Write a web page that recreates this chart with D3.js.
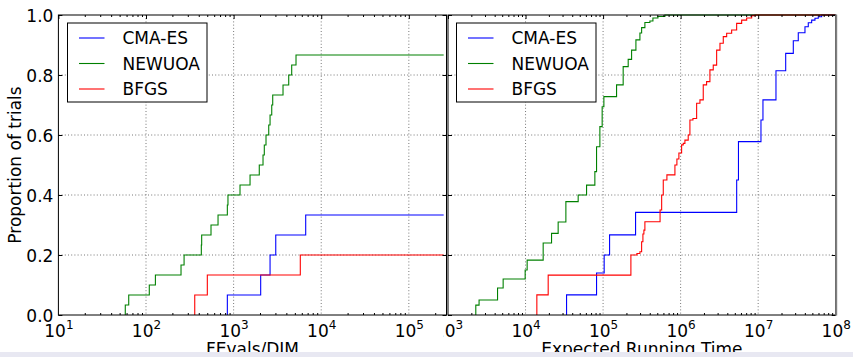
<!DOCTYPE html>
<html>
<head>
<meta charset="utf-8">
<script src="https://cdn.jsdelivr.net/npm/d3@7"></script>
<style>
  html, body { margin: 0; padding: 0; background: #fff; }
  svg { display: block; font-family: "DejaVu Sans", sans-serif; }
</style>
</head>
<body>
<svg id="chart" width="853" height="357"></svg>
<script>
// ---- data ---------------------------------------------------------------
const algorithms = ["CMA-ES", "NEWUOA", "BFGS"];
const algColors = ["#0000ff", "#008000", "#ff0000"];
const propTicks = [0, 0.2, 0.4, 0.6, 0.8, 1.0];
const fevalsTicks = [1e1, 1e2, 1e3, 1e4, 1e5];
const ertTicks = [1e3, 1e4, 1e5, 1e6, 1e7, 1e8];

// FEvals/DIM at which each successful trial reached the target (out of 30 trials)
const nTrials = 30;
const fevalsCMA = [848, 848, 2037, 2037, 2606, 2606, 3027, 3027, 6650, 6650];
const fevalsNEWUOA = [58, 63.5, 109, 128, 251, 272, 428, 432, 552, 664, 848, 862,
  1183, 1540, 1963, 2166, 2240, 2343, 2517, 2606, 2724, 2795, 3664, 4256, 4603, 5155];
const fevalsBFGS = [360, 360, 501, 501, 5770, 5770];
const fevalsMax = 2.5e5;

// expected running time distribution: (ERT, proportion) steps
const ertCMA = [33810, 82390, 103300, 121300, 262500, 5284000, 5572000, 10870000, 11530000,
  16970000, 22650000, 28390000, 32910000, 40150000, 44290000, 48980000, 54030000, 59600000, 65910000];
const propCMA = [0.067, 0.14, 0.2, 0.267, 0.342, 0.45, 0.578, 0.65, 0.717,
  0.814, 0.872, 0.914, 0.941, 0.961, 0.974, 0.983, 0.989, 0.994, 1.0];
const ertNEWUOA = [2283, 2516, 4355, 5143, 9886, 10490, 16880, 21650, 26340, 33130, 47730,
  61250, 78340, 82390, 90920, 97300, 102400, 149300, 181600, 210800, 233200, 265100, 298600,
  314100, 346100, 401500, 439400, 509700, 627000];
const propNEWUOA = [0.033, 0.05, 0.09, 0.12, 0.15, 0.183, 0.24, 0.272, 0.31, 0.378, 0.4,
  0.433, 0.478, 0.561, 0.628, 0.694, 0.728, 0.767, 0.828, 0.852, 0.883, 0.917, 0.94,
  0.958, 0.975, 0.98, 0.99, 0.995, 1.0];
const ertBFGS = [13990, 19590, 228400, 273100, 298600, 314100, 326400, 336000, 346100,
  543200, 569500, 597300, 665500, 844300, 895500, 950000, 1030000, 1081000, 1136000,
  1253000, 1318000, 1442000, 1609000, 1775000, 1958000, 2163000, 2387000, 2635000,
  2915000, 3217000, 3549000, 3925000, 4551000, 5280000, 6126000, 7109000, 8245000, 9098000];
const propBFGS = [0.067, 0.133, 0.2, 0.205, 0.211, 0.244, 0.27, 0.283, 0.311,
  0.35, 0.4, 0.45, 0.467, 0.5, 0.52, 0.54, 0.567, 0.572, 0.583,
  0.6, 0.65, 0.655, 0.706, 0.717, 0.767, 0.778, 0.817, 0.833,
  0.883, 0.906, 0.928, 0.939, 0.95, 0.972, 0.983, 0.99, 0.998, 1.0];
const ertMax = 1e8;

// ---- helpers -------------------------------------------------------------
function ecdfPoints(values, n, xEnd) {
  const pts = [[values[0], 0]];
  values.forEach((v, i) => pts.push([v, (i + 1) / n]));
  pts.push([xEnd, values.length / n]);
  return pts;
}
function stepPoints(xs, ps, xEnd) {
  const pts = [[xs[0], 0]];
  xs.forEach((v, i) => pts.push([v, ps[i]]));
  pts.push([xEnd, ps[ps.length - 1]]);
  return pts;
}
function minorTicks(scale) {
  const [a, b] = scale.domain();
  const out = [];
  for (let d = Math.floor(Math.log10(a)); d <= Math.ceil(Math.log10(b)); d++) {
    for (let k = 2; k <= 9; k++) {
      const v = k * Math.pow(10, d);
      if (v > a && v < b) out.push(v);
    }
  }
  return out;
}

// ---- layout --------------------------------------------------------------
const svg = d3.select("#chart");
const plotTop = 15, plotBottom = 315;
const y = d3.scaleLinear().domain([0, 1]).range([plotBottom, plotTop]);
const FONT = 17;

const panels = [
  {
    id: "fevals",
    x: d3.scaleLog().domain([10, Math.pow(10, 5.43)]).range([58.4, 446.5]),
    ticks: fevalsTicks,
    label: "FEvals/DIM",
    series: [
      ecdfPoints(fevalsCMA, nTrials, fevalsMax),
      ecdfPoints(fevalsNEWUOA, nTrials, fevalsMax),
      ecdfPoints(fevalsBFGS, nTrials, fevalsMax)
    ],
    legendX: 67.5,
    labelClipX: 0
  },
  {
    id: "ert",
    x: d3.scaleLog().domain([1e3, 1e8]).range([448, 835.7]),
    ticks: ertTicks,
    label: "Expected Running Time",
    series: [
      stepPoints(ertCMA, propCMA, ertMax),
      stepPoints(ertNEWUOA, propNEWUOA, ertMax),
      stepPoints(ertBFGS, propBFGS, ertMax)
    ],
    legendX: 456.5,
    labelClipX: 443.5
  }
];

const defs = svg.append("defs");

panels.forEach(p => {
  const [x0, x1] = p.x.range();
  const g = svg.append("g").attr("class", "panel-" + p.id);

  defs.append("clipPath").attr("id", "clip-" + p.id)
    .append("rect").attr("x", x0).attr("y", plotTop - 1)
    .attr("width", x1 - x0).attr("height", plotBottom - plotTop + 2);
  defs.append("clipPath").attr("id", "lblclip-" + p.id)
    .append("rect").attr("x", p.labelClipX).attr("y", 0)
    .attr("width", 853 - p.labelClipX).attr("height", 357);

  // dotted grid
  const grid = g.append("g").attr("stroke", "#555").attr("stroke-width", 0.8)
    .attr("stroke-dasharray", "1,2.2");
  p.ticks.filter(t => p.x(t) > x0 + 1 && p.x(t) < x1 - 1).forEach(t => {
    grid.append("line").attr("x1", p.x(t)).attr("x2", p.x(t))
      .attr("y1", plotTop).attr("y2", plotBottom);
  });
  propTicks.filter(t => t > 0 && t < 1).forEach(t => {
    grid.append("line").attr("x1", x0).attr("x2", x1)
      .attr("y1", y(t)).attr("y2", y(t));
  });

  // step curves
  const line = d3.line().x(d => p.x(d[0])).y(d => y(d[1])).curve(d3.curveStepAfter);
  const lines = g.append("g").attr("clip-path", `url(#clip-${p.id})`);
  p.series.forEach((pts, i) => {
    lines.append("path").attr("d", line(pts)).attr("fill", "none")
      .attr("stroke", algColors[i]).attr("stroke-width", 1.1);
  });

  // axes (ticks pointing inward)
  const minors = minorTicks(p.x);
  const styleAxis = sel => {
    sel.attr("font-family", null).attr("font-size", null);
    sel.select(".domain").remove();
    sel.selectAll(".tick line").attr("stroke", "#000").attr("stroke-width", 1);
  };
  g.append("g").attr("transform", `translate(0,${plotBottom})`)
    .call(d3.axisBottom(p.x).tickValues(minors).tickSize(-2).tickFormat(""))
    .call(styleAxis);
  g.append("g").attr("transform", `translate(0,${plotTop})`)
    .call(d3.axisTop(p.x).tickValues(minors).tickSize(-2).tickFormat(""))
    .call(styleAxis);
  g.append("g").attr("transform", `translate(0,${plotTop})`)
    .call(d3.axisTop(p.x).tickValues(p.ticks).tickSize(-4).tickFormat(""))
    .call(styleAxis);
  const bottomAxis = g.append("g").attr("transform", `translate(0,${plotBottom})`)
    .call(d3.axisBottom(p.x).tickValues(p.ticks).tickSize(-4))
    .call(styleAxis);
  bottomAxis.attr("clip-path", `url(#lblclip-${p.id})`);
  bottomAxis.selectAll(".tick text")
    .attr("y", 21.7).attr("dy", null)
    .attr("font-size", FONT).attr("fill", "#000")
    .attr("text-anchor", "middle")
    .text(null)
    .each(function (d) {
      const t = d3.select(this);
      t.append("tspan").text("10");
      t.append("tspan").attr("dy", -8).attr("font-size", 12)
        .text(Math.round(Math.log10(d)));
    });

  g.append("g").attr("transform", `translate(${x0},0)`)
    .call(d3.axisLeft(y).tickValues(propTicks).tickSize(-4).tickFormat(""))
    .call(styleAxis);
  g.append("g").attr("transform", `translate(${x1},0)`)
    .call(d3.axisRight(y).tickValues(propTicks).tickSize(-4).tickFormat(""))
    .call(styleAxis);

  // frame
  g.append("rect").attr("x", x0).attr("y", plotTop)
    .attr("width", x1 - x0).attr("height", plotBottom - plotTop)
    .attr("fill", "none").attr("stroke", "#000").attr("stroke-width", 1);

  // x label
  g.append("text").attr("x", (x0 + x1) / 2).attr("y", 355)
    .attr("text-anchor", "middle").attr("font-size", FONT).attr("fill", "#000")
    .text(p.label);

  // legend
  const lg = g.append("g").attr("transform", `translate(${p.legendX},23)`);
  lg.append("rect").attr("width", 139.5).attr("height", 79)
    .attr("fill", "#fff").attr("stroke", "#000").attr("stroke-width", 1);
  algorithms.forEach((name, i) => {
    const yy = 15 + i * 25.5;
    lg.append("line").attr("x1", 11.5).attr("x2", 37).attr("y1", yy).attr("y2", yy)
      .attr("stroke", algColors[i]).attr("stroke-width", 1.1);
    lg.append("text").attr("x", 55).attr("y", yy).attr("dy", "0.36em")
      .attr("font-size", FONT).attr("fill", "#000").text(name);
  });
});

// shared y tick labels on the left panel
const yLabels = svg.append("g").attr("transform", `translate(58.4,0)`)
  .call(d3.axisLeft(y).tickValues(propTicks).tickSize(0).tickPadding(5)
    .tickFormat(d3.format(".1f")));
yLabels.attr("font-family", null).attr("font-size", FONT);
yLabels.select(".domain").remove();
yLabels.selectAll(".tick text").attr("dy", "0.36em").attr("fill", "#000");

// y axis title
svg.append("text")
  .attr("transform", `translate(21,165) rotate(-90)`)
  .attr("text-anchor", "middle").attr("font-size", FONT).attr("fill", "#000")
  .text("Proportion of trials");

// right edge of the figure
svg.append("line").attr("x1", 836.2).attr("x2", 836.2)
  .attr("y1", plotTop - 0.5).attr("y2", plotBottom + 0.5)
  .attr("stroke", "#808080").attr("stroke-width", 2);

// bottom strip
svg.append("rect").attr("x", 0).attr("y", 352).attr("width", 853).attr("height", 5)
  .attr("fill", "#e8e8f2");
</script>
</body>
</html>
